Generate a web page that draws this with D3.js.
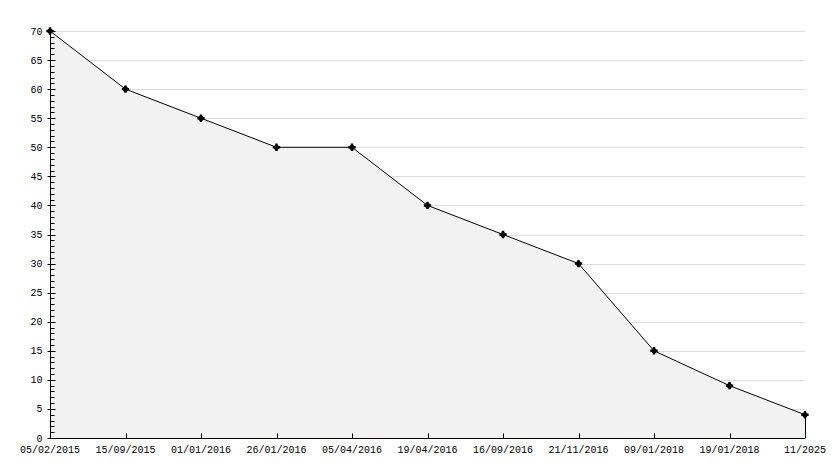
<!DOCTYPE html>
<html>
<head>
<meta charset="utf-8">
<script src="https://cdn.jsdelivr.net/npm/d3@7"></script>
<style>
  body { margin: 0; background: #fff; }
  text { font-family: "Liberation Mono", "DejaVu Sans Mono", monospace; font-size: 10px; fill: #000; }
</style>
</head>
<body>
<script>
var dates = ["05/02/2015", "15/09/2015", "01/01/2016", "26/01/2016", "05/04/2016",
             "19/04/2016", "16/09/2016", "21/11/2016", "09/01/2018", "19/01/2018", "11/2025"];
var values = [70, 60, 55, 50, 50, 40, 35, 30, 15, 9, 4];
var yTicks = [0, 5, 10, 15, 20, 25, 30, 35, 40, 45, 50, 55, 60, 65, 70];

var width = 834, height = 468;
var plotLeft = 50, plotRight = 805, plotTop = 31, plotBottom = 438;

var svg = d3.select("body").append("svg")
    .attr("width", width)
    .attr("height", height);

var x = d3.scalePoint().domain(dates).range([plotLeft, plotRight]);
var y = d3.scaleLinear().domain([0, 70]).range([plotBottom, plotTop]);

// gridlines
svg.append("g").selectAll("line")
    .data(yTicks.filter(function(d) { return d > 0; }))
    .enter().append("line")
    .attr("x1", plotLeft).attr("x2", plotRight)
    .attr("y1", function(d) { return Math.round(y(d)) + 0.5; })
    .attr("y2", function(d) { return Math.round(y(d)) + 0.5; })
    .style("stroke", "#dcdcdc")
    .style("shape-rendering", "crispEdges");

// area
var area = d3.area()
    .x(function(d, i) { return x(dates[i]); })
    .y0(plotBottom)
    .y1(function(d) { return y(d); });

svg.append("path")
    .datum(values)
    .attr("d", area)
    .style("fill", "#f2f2f2");

// line
var line = d3.line()
    .x(function(d, i) { return x(dates[i]); })
    .y(function(d) { return y(d); });

svg.append("path")
    .datum(values)
    .attr("d", line)
    .style("fill", "none")
    .style("stroke", "#000")
    .style("stroke-width", 1);

// right edge drop line
var lastX = Math.round(x(dates[dates.length - 1])) + 0.5;
svg.append("line")
    .attr("x1", lastX).attr("x2", lastX)
    .attr("y1", y(values[values.length - 1])).attr("y2", plotBottom)
    .style("stroke", "#000")
    .style("shape-rendering", "crispEdges");

// y axis
var yAxis = svg.append("g").attr("transform", "translate(" + (plotLeft + 0.5) + ",0)");
yAxis.append("line")
    .attr("y1", plotTop).attr("y2", plotBottom)
    .style("stroke", "#000");
yAxis.selectAll(".minor")
    .data(d3.range(0, 71))
    .enter().append("line")
    .attr("class", "minor")
    .attr("x1", 0)
    .attr("x2", function(d) { return d % 5 == 0 ? 5 : 4; })
    .attr("y1", function(d) { return Math.round(y(d)) + 0.5; })
    .attr("y2", function(d) { return Math.round(y(d)) + 0.5; })
    .style("stroke", "#000");
yAxis.selectAll(".major")
    .data(yTicks)
    .enter().append("line")
    .attr("class", "major")
    .attr("x1", -3).attr("x2", 0)
    .attr("y1", function(d) { return Math.round(y(d)) + 0.5; })
    .attr("y2", function(d) { return Math.round(y(d)) + 0.5; })
    .style("stroke", "#000");
yAxis.selectAll("text")
    .data(yTicks)
    .enter().append("text")
    .attr("x", -8)
    .attr("y", function(d) { return y(d); })
    .attr("dy", "0.35em")
    .attr("text-anchor", "end")
    .text(function(d) { return d; });

// x axis
var xAxis = svg.append("g").attr("transform", "translate(0," + (plotBottom + 0.5) + ")");
xAxis.append("line")
    .attr("x1", plotLeft).attr("x2", plotRight)
    .style("stroke", "#000");
xAxis.selectAll(".tick")
    .data(dates)
    .enter().append("line")
    .attr("class", "tick")
    .attr("x1", function(d) { return Math.round(x(d)) + 0.5; })
    .attr("x2", function(d) { return Math.round(x(d)) + 0.5; })
    .attr("y1", 0).attr("y2", -5)
    .style("stroke", "#000");
xAxis.selectAll("text")
    .data(dates)
    .enter().append("text")
    .attr("x", function(d) { return x(d); })
    .attr("y", 14)
    .attr("text-anchor", "middle")
    .text(function(d) { return d; });

// markers: small filled blob with cross spikes
var markers = svg.selectAll(".marker")
    .data(values)
    .enter().append("g")
    .attr("class", "marker")
    .attr("transform", function(d, i) { return "translate(" + x(dates[i]) + "," + y(d) + ")"; });
markers.append("circle")
    .attr("r", 2.6)
    .style("fill", "#000");
markers.append("path")
    .attr("d", d3.symbol().type(d3.symbolCross).size(30))
    .style("fill", "#000");
</script>
</body>
</html>
